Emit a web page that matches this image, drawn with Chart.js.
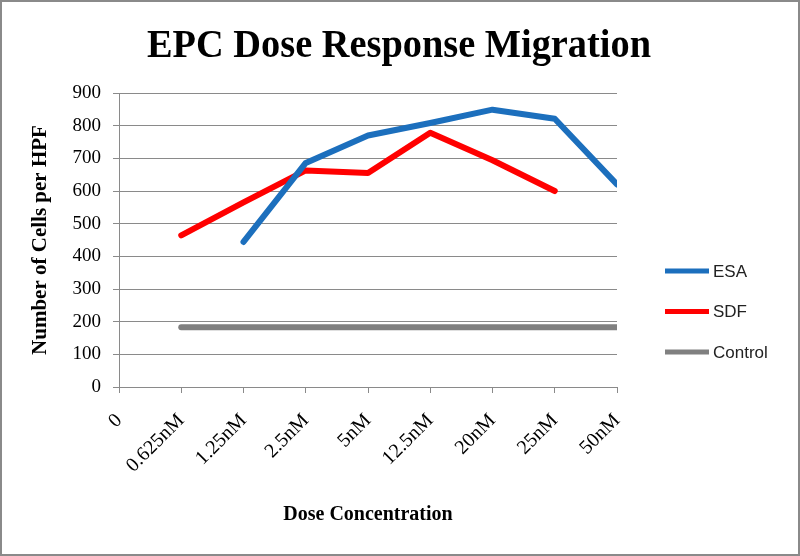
<!DOCTYPE html>
<html>
<head>
<meta charset="utf-8">
<script src="https://cdn.jsdelivr.net/npm/chart.js@4"></script>
<style>
    body { margin: 0; background: #fff; }
    #wrap { width: 800px; height: 556px; }
</style>
</head>
<body>
<div id="wrap"><canvas id="grafico" width="800" height="556"></canvas></div>
<script>
const chartTitle = 'EPC Dose Response Migration';
const doses = ['0', '0.625nM', '1.25nM', '2.5nM', '5nM', '12.5nM', '20nM', '25nM', '50nM'];
const esa = [null, null, 444, 686, 770, 808, 849, 821, 620];
const sdf = [null, 464, 565, 663, 655, 778, 694, 600, null];
const control = [null, 183, 183, 183, 183, 183, 183, 183, 183];
const yTicks = [0, 100, 200, 300, 400, 500, 600, 700, 800, 900];

const serif = '"Liberation Serif", "Times New Roman", serif';

// fondo blanco, borde gris y título (un poco condensado, como el original)
const marco = {
    id: 'marco',
    beforeDraw(chart) {
        const ctx = chart.ctx;
        ctx.save();
        ctx.fillStyle = '#fff';
        ctx.fillRect(0, 0, chart.width, chart.height);
        ctx.strokeStyle = '#8a8a8a';
        ctx.lineWidth = 2;
        ctx.strokeRect(1, 1, chart.width - 2, chart.height - 2);

        ctx.font = 'bold 40px ' + serif;
        ctx.fillStyle = '#000';
        ctx.textAlign = 'center';
        ctx.textBaseline = 'alphabetic';
        const ancho = ctx.measureText(chartTitle).width;
        const escala = Math.min(1, 504 / ancho);
        ctx.translate(399, 57);
        ctx.scale(escala, 1);
        ctx.fillText(chartTitle, 0, 0);
        ctx.restore();
    }
};

// leyenda a la derecha
const leyenda = {
    id: 'leyenda',
    afterDraw(chart) {
        const ctx = chart.ctx;
        ctx.save();
        chart.data.datasets.forEach((ds, i) => {
            const y = 271 + i * 40.5;
            ctx.strokeStyle = ds.borderColor;
            ctx.lineWidth = 5;
            ctx.beginPath();
            ctx.moveTo(665, y);
            ctx.lineTo(709, y);
            ctx.stroke();
            ctx.fillStyle = '#222';
            ctx.font = '17px "Liberation Sans", Arial, sans-serif';
            ctx.textBaseline = 'middle';
            ctx.fillText(ds.label, 713, y + 1);
        });
        ctx.restore();
    }
};

const linea = (label, data, color) => ({
    label,
    data,
    borderColor: color,
    backgroundColor: color,
    borderWidth: 6,
    borderCapStyle: 'round',
    borderJoinStyle: 'round',
    pointRadius: 0,
    tension: 0,
    clip: 0
});

new Chart(document.getElementById('grafico'), {
    type: 'line',
    data: {
        labels: doses,
        datasets: [
            linea('ESA', esa, '#1c6fbd'),
            linea('SDF', sdf, '#ff0000'),
            linea('Control', control, '#808080')
        ]
    },
    options: {
        responsive: false,
        animation: false,
        layout: { padding: { left: 0, right: 183, top: 93, bottom: 0 } },
        plugins: {
            legend: { display: false },
            tooltip: { enabled: false },
            title: { display: false }
        },
        scales: {
            x: {
                offset: false,
                grid: { drawOnChartArea: false, drawTicks: true, tickLength: 6, color: '#8a8a8a' },
                border: { color: '#8a8a8a', width: 1 },
                ticks: {
                    color: '#000',
                    font: { family: serif, size: 20 },
                    minRotation: 45,
                    maxRotation: 45,
                    padding: 16,
                    autoSkip: false
                },
                title: {
                    display: true,
                    text: 'Dose Concentration',
                    color: '#000',
                    font: { family: serif, size: 20, weight: 'bold', lineHeight: 1.2 },
                    padding: { top: 0, bottom: 29 }
                },
                afterFit(scale) { scale.height = 169; }
            },
            y: {
                min: 0,
                max: 900,
                afterBuildTicks(scale) { scale.ticks = yTicks.map(v => ({ value: v })); },
                grid: { color: '#8a8a8a', tickLength: 6 },
                border: { color: '#8a8a8a', width: 1 },
                ticks: {
                    color: '#000',
                    font: { family: serif, size: 19 },
                    padding: 12
                },
                title: {
                    display: true,
                    text: 'Number of Cells per HPF',
                    color: '#000',
                    font: { family: serif, size: 21, weight: 'bold', lineHeight: 1.2 },
                    padding: { top: 28, bottom: 0 }
                },
                afterFit(scale) { scale.width = 119; }
            }
        }
    },
    plugins: [marco, leyenda]
});
</script>
</body>
</html>
